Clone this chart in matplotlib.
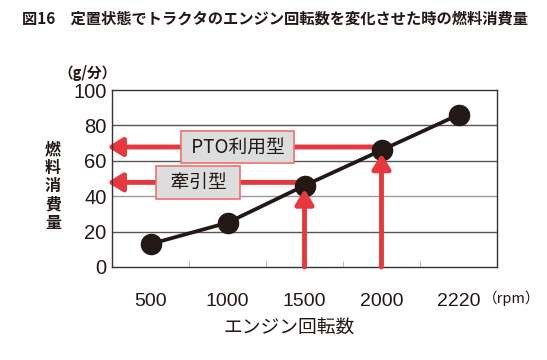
import matplotlib
matplotlib.use("Agg")
import matplotlib.pyplot as plt

plt.rcParams['font.family'] = ['Noto Sans CJK JP', 'DejaVu Sans']

# data
rpm_labels = ["500", "1000", "1500", "2000", "2220"]
fuel = [13, 25, 46, 66, 86]
pto_level = 67.8
traction_level = 47.8

RED = "#e8383d"
DARK = "#231815"
NUM_FONT = ['Liberation Sans Narrow', 'Liberation Sans', 'DejaVu Sans']

fig = plt.figure(figsize=(5.47, 3.6), dpi=100)
ax = fig.add_axes([112 / 547, 1 - 267 / 360, 385 / 547, 177 / 360])

x = list(range(len(rpm_labels)))

# grid lines
for yv in [20, 40, 60, 80]:
    ax.axhline(yv, color="#555555" if yv != 40 else "#999999", lw=1, zorder=1)

# arrows for operating points
i_pto = rpm_labels.index("2000")
i_tr = rpm_labels.index("1500")
arrow_kw = dict(arrowstyle="-|>,head_length=0.9,head_width=0.55", color=RED, lw=3.5,
                shrinkA=0, shrinkB=0)
ax.annotate("", xy=(-0.56, pto_level), xytext=(i_pto, pto_level),
            arrowprops=arrow_kw, annotation_clip=False, zorder=2)
ax.annotate("", xy=(-0.56, traction_level), xytext=(i_tr, traction_level),
            arrowprops=arrow_kw, annotation_clip=False, zorder=2)

# fuel curve
ax.plot(x, fuel, color=DARK, lw=2.7, marker="o", markersize=14.5, zorder=3)

# vertical arrows drawn over the markers
ax.annotate("", xy=(i_pto, fuel[i_pto] - 2), xytext=(i_pto, 0),
            arrowprops=arrow_kw, zorder=4)
ax.annotate("", xy=(i_tr, fuel[i_tr] - 2), xytext=(i_tr, 0),
            arrowprops=arrow_kw, zorder=4)

# boxed labels
box = dict(boxstyle="square,pad=0.3", fc="#dcdddd", ec="#ef6f6f", lw=1.2)
ax.text(1.13, pto_level, " PTO利用型 ", fontsize=13.5, ha="center", va="center",
        bbox=box, zorder=5, color=DARK)
ax.text(0.62, traction_level, "  牽引型  ", fontsize=13.5, ha="center", va="center",
        bbox=box, zorder=5, color=DARK)

ax.set_xlim(-0.5, 4.5)
ax.set_ylim(0, 100)
ax.set_yticks([0, 20, 40, 60, 80, 100])
ax.set_yticklabels(["0", "20", "40", "60", "80", "100"], fontsize=14.5, family=NUM_FONT,
                   color=DARK)
ax.set_xticks(x)
ax.set_xticklabels(rpm_labels, fontsize=14, family=NUM_FONT, color=DARK)
ax.set_xticks([0.5, 1.5, 2.5, 3.5], minor=True)
ax.tick_params(axis="x", which="major", length=0, pad=19)
ax.tick_params(axis="x", which="minor", length=4, direction="in", color="#aaaaaa")
ax.tick_params(axis="y", length=0, pad=4)
for s in ax.spines.values():
    s.set_color("#333333")
    s.set_linewidth(1)

fig.text(22 / 547, 1 - 19 / 360, "図16　定置状態でトラクタのエンジン回転数を変化させた時の燃料消費量",
         fontsize=11, fontweight="bold", va="center", ha="left", color=DARK)
fig.text(88 / 547, 1 - 73 / 360, "（g/分）", fontsize=10.5, ha="center", va="center",
         fontweight="bold", color=DARK)
fig.text(53 / 547, 1 - 186 / 360, "燃\n料\n消\n費\n量", fontsize=11.5, ha="center", va="center",
         linespacing=1.18, fontweight="bold", color=DARK)
fig.text(512 / 547, 1 - 298 / 360, "（rpm）", fontsize=10.5, ha="center", va="center", color=DARK)
fig.text(289 / 547, 1 - 328 / 360, "エンジン回転数", fontsize=13.5, ha="center", va="center",
         color=DARK)

fig.savefig("out.png", dpi=100)
